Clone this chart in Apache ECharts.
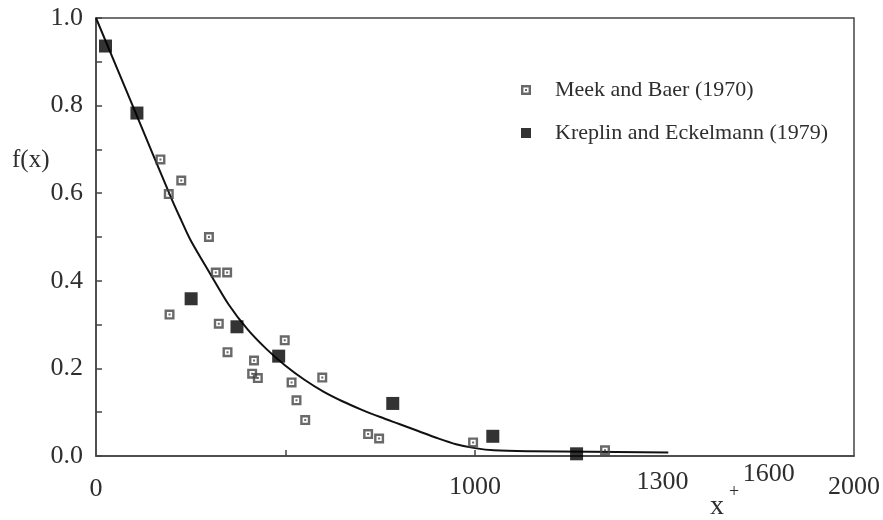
<!DOCTYPE html>
<html>
<head>
<meta charset="utf-8">
<title>f(x) against x+</title>
<script src="https://cdn.jsdelivr.net/npm/echarts@6/dist/echarts.min.js"></script>
<style>
  html, body { margin: 0; padding: 0; background: #fff; }
  #chart { width: 883px; height: 520px; }
</style>
</head>
<body>
<div id="chart"></div>
<script>
// Meek and Baer (1970) measurements
const meekX = [170, 225, 192, 298, 316, 346, 194, 324, 347, 417, 412, 427, 498, 516, 529, 552, 597, 718, 747, 995, 1343];
const meekY = [0.677, 0.629, 0.598, 0.500, 0.419, 0.419, 0.323, 0.302, 0.237, 0.218, 0.188, 0.178, 0.264, 0.168, 0.127, 0.082, 0.179, 0.050, 0.040, 0.031, 0.013];

// Kreplin and Eckelmann (1979) measurements
const krepX = [25, 108, 251, 372, 482, 783, 1047, 1268];
const krepY = [0.936, 0.783, 0.359, 0.295, 0.228, 0.120, 0.045, 0.005];

// fitted curve
const curveX = [0, 100, 200, 225, 250, 300, 350, 400, 450, 500, 550, 600, 650, 700, 750, 800, 850, 900, 950, 1000, 1050, 1150, 1510];
const curveY = [1.0, 0.793, 0.586, 0.538, 0.492, 0.418, 0.346, 0.289, 0.244, 0.206, 0.174, 0.147, 0.125, 0.106, 0.089, 0.073, 0.057, 0.041, 0.027, 0.018, 0.013, 0.011, 0.008];

// axis tick labels
const xTickValues = [0, 1000, 1495, 1775, 2000];
const xTickLabels = ['0', '1000', '1300', '1600', '2000'];
const yTickValues = [0, 0.2, 0.4, 0.6, 0.8, 1.0];

const seriesNames = ['Meek and Baer (1970)', 'Kreplin and Eckelmann (1979)'];

const zip = (xs, ys) => xs.map((x, i) => [x, ys[i]]);

// hollow square with a dot in the middle
const meekSymbol = 'path://M0,0H10V10H0ZM2.4,2.4V7.6H7.6V2.4ZM4,4H6V6H4Z';
const serif = '"Liberation Serif", "DejaVu Serif", serif';
const ink = '#2e2e2e';

// per-label lift above the baseline (the scanned axis labels sit at uneven heights)
const xLabelLift = { '0': 0, '1000': 2, '1300': 7, '1600': 15, '2000': 2 };

const labelRich = {};
[0, 2, 7, 15].forEach(function (p) {
  labelRich['l' + p] = { fontFamily: serif, fontSize: 26, color: ink, padding: [0, 0, p, 0] };
});

const chart = echarts.init(document.getElementById('chart'), null, { renderer: 'canvas' });

chart.setOption({
  animation: false,
  backgroundColor: '#fff',
  grid: {
    left: 96, right: 29, top: 18, bottom: 64,
    show: true, borderColor: '#444', borderWidth: 1.5,
    containLabel: false
  },
  xAxis: {
    type: 'value',
    min: 0, max: 2000,
    axisLine: { show: true, onZero: false, lineStyle: { color: '#444', width: 1.5 } },
    splitLine: { show: false },
    axisTick: { show: true, inside: true, length: 6, customValues: [500, 1000], lineStyle: { color: '#444', width: 1.5 } },
    axisLabel: {
      customValues: xTickValues,
      margin: 46,
      verticalAlign: 'bottom',
      formatter: function (v) {
        const i = xTickValues.indexOf(v);
        const t = i >= 0 ? xTickLabels[i] : '';
        return '{l' + (xLabelLift[t] || 0) + '|' + t + '}';
      },
      rich: labelRich
    }
  },
  yAxis: {
    type: 'value',
    min: 0, max: 1.0, interval: 0.2,
    axisLine: { show: true, onZero: false, lineStyle: { color: '#444', width: 1.5 } },
    splitLine: { show: false },
    axisTick: { show: true, inside: true, length: 6, lineStyle: { color: '#444', width: 1.5 } },
    minorTick: { show: true, splitNumber: 2, length: 6, lineStyle: { color: '#444', width: 1.5 } },
    axisLabel: {
      customValues: yTickValues,
      margin: 13,
      fontFamily: serif, fontSize: 26, color: ink,
      formatter: v => v.toFixed(1)
    }
  },
  legend: {
    orient: 'vertical',
    left: 516, top: 74,
    itemWidth: 10, itemHeight: 10,
    itemGap: 21,
    textStyle: { fontFamily: serif, fontSize: 22, color: ink, padding: [0, 0, 0, 19], lineHeight: 22 },
    data: [
      { name: seriesNames[0], icon: meekSymbol },
      { name: seriesNames[1], icon: 'rect' }
    ]
  },
  graphic: [
    {
      type: 'text', left: 12, top: 148,
      style: { text: 'f(x)', font: '25px ' + serif, fill: ink }
    },
    {
      type: 'text', left: 710, top: 483,
      style: {
        text: '{x|x}{p|+}',
        rich: {
          x: { fontFamily: serif, fontSize: 28, fill: ink, verticalAlign: 'bottom', padding: [10, 5, 0, 0] },
          p: { fontFamily: serif, fontSize: 18, fill: ink, verticalAlign: 'top' }
        }
      }
    }
  ],
  series: [
    {
      name: 'fit',
      type: 'line',
      data: zip(curveX, curveY),
      showSymbol: false,
      smooth: 0.3,
      lineStyle: { color: '#111', width: 2 },
      z: 2,
      silent: true
    },
    {
      name: seriesNames[0],
      type: 'scatter',
      data: zip(meekX, meekY),
      symbol: meekSymbol,
      symbolSize: 10,
      itemStyle: { color: '#444' },
      z: 3
    },
    {
      name: seriesNames[1],
      type: 'scatter',
      data: zip(krepX, krepY),
      symbol: 'rect',
      symbolSize: 13,
      itemStyle: { color: '#000' },
      z: 4
    }
  ]
});
</script>
</body>
</html>
